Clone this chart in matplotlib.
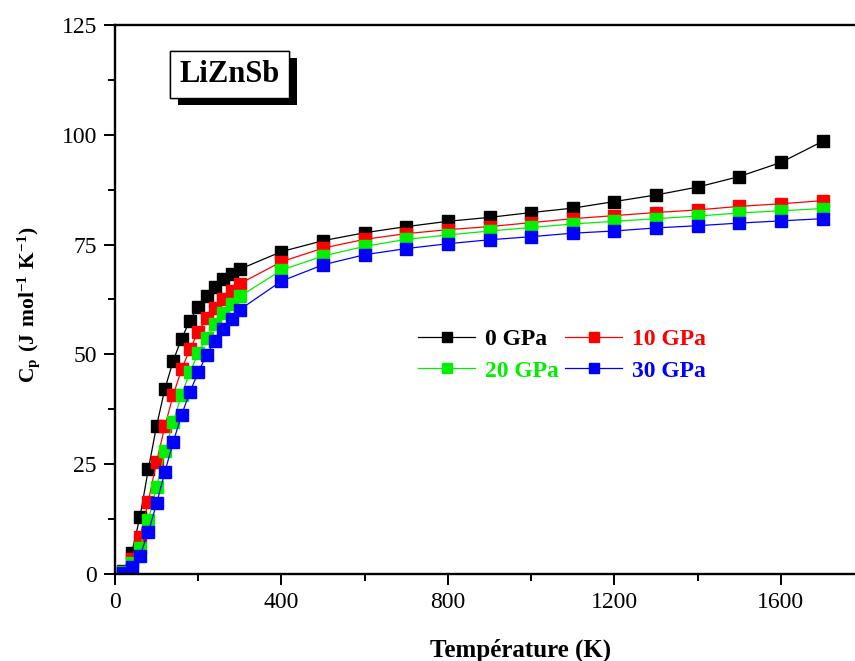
import matplotlib
matplotlib.use("Agg")
import matplotlib.pyplot as plt
import matplotlib.patheffects as pe
from matplotlib.ticker import MultipleLocator

plt.rcParams['font.family'] = ['Liberation Serif', 'DejaVu Serif']
plt.rcParams['mathtext.fontset'] = 'custom'
plt.rcParams['mathtext.rm'] = 'Liberation Serif'
plt.rcParams['mathtext.bf'] = 'Liberation Serif:bold'

# temperature (K)
temps = [20, 40, 60, 80, 100, 120, 140, 160, 180, 200, 220, 240, 260, 280, 300,
         400, 500, 600, 700, 800, 900, 1000, 1100, 1200, 1300, 1400, 1500, 1600, 1700]

# heat capacity Cp (J mol-1 K-1) at each pressure
cp_0 = [0.7, 4.8, 13.0, 23.8, 33.8, 42.2, 48.6, 53.6, 57.7, 60.9, 63.3, 65.3, 67.1, 68.3, 69.4,
        73.4, 75.9, 77.7, 79.1, 80.3, 81.2, 82.3, 83.3, 84.8, 86.3, 88.1, 90.5, 93.7, 98.5]
cp_10 = [0.5, 3.5, 8.4, 16.5, 25.6, 33.7, 40.8, 46.6, 51.2, 55.1, 58.2, 60.6, 62.7, 64.5, 66.1,
         71.1, 74.2, 76.2, 77.5, 78.4, 79.1, 80.0, 80.9, 81.6, 82.3, 82.9, 83.7, 84.3, 85.0]
cp_20 = [0.4, 2.5, 6.0, 12.3, 19.9, 27.9, 34.7, 40.8, 45.9, 50.3, 53.7, 56.9, 59.4, 61.5, 63.2,
         69.2, 72.4, 74.6, 76.2, 77.2, 78.1, 78.9, 79.7, 80.3, 80.9, 81.5, 82.2, 82.7, 83.2]
cp_30 = [0.3, 1.6, 4.2, 9.5, 16.1, 23.3, 30.1, 36.2, 41.5, 45.9, 49.9, 53.1, 55.8, 58.1, 60.2,
         66.7, 70.4, 72.7, 74.1, 75.2, 76.1, 76.8, 77.6, 78.1, 78.8, 79.3, 79.9, 80.4, 80.9]

labels = ['0 GPa', '10 GPa', '20 GPa', '30 GPa']
colors = ['#000000', '#ff0000', '#00f000', '#0000ff']
series = [cp_0, cp_10, cp_20, cp_30]

fig = plt.figure(figsize=(8.55, 6.61), dpi=100)
ax = fig.add_axes([0.1345, 0.1316, 0.8655, 0.8306])

lines = []
for cp, lab, col in zip(series, labels, colors):
    ln, = ax.plot(temps, cp, '-s', color=col, lw=0.9, ms=8, mec=col, label=lab)
    lines.append(ln)

ax.set_xlim(0, 1778)
ax.set_ylim(0, 125)
ax.xaxis.set_major_locator(MultipleLocator(400))
ax.xaxis.set_minor_locator(MultipleLocator(200))
ax.yaxis.set_major_locator(MultipleLocator(25))
ax.yaxis.set_minor_locator(MultipleLocator(12.5))
ax.tick_params(which='both', direction='out', width=1.4, labelsize=17, pad=5)
ax.tick_params(which='major', length=8)
ax.tick_params(which='minor', length=5)
ax.tick_params(top=False, right=False)
for s in ['left', 'bottom', 'top']:
    ax.spines[s].set_linewidth(1.7)
ax.spines['right'].set_visible(False)

ax.set_xlabel('Température (K)', fontsize=18, fontweight='bold')
ax.xaxis.set_label_coords(0.548, -0.118)
ax.set_ylabel(r'$\mathbf{C_p\ (J\ mol^{-1}\ K^{-1})}$', fontsize=15.5)
ax.yaxis.set_label_coords(-0.099, 0.49)

# row-wise legend order: 0, 10 / 20, 30
order = [0, 2, 1, 3]
leg = ax.legend([lines[i] for i in order], [labels[i] for i in order],
                loc='upper left', bbox_to_anchor=(0.41, 0.447), ncol=2, frameon=False,
                handlelength=2.4, handletextpad=0.4, columnspacing=0.3,
                labelspacing=0.42, borderpad=0, borderaxespad=0, markerscale=0.9,
                prop={'weight': 'bold', 'size': 17})
for txt, i in zip(leg.get_texts(), order):
    txt.set_color(colors[i])

t = ax.text(0.155, 0.91, 'LiZnSb', transform=ax.transAxes, fontsize=22, fontweight='bold',
            ha='center', va='center',
            bbox=dict(boxstyle='square,pad=0.3', fc='white', ec='black', lw=1.0))
t.get_bbox_patch().set_path_effects([
    pe.withSimplePatchShadow(offset=(5.5, -5), shadow_rgbFace='black', alpha=1.0),
    pe.Normal()])

fig.savefig('out.png', dpi=100)
